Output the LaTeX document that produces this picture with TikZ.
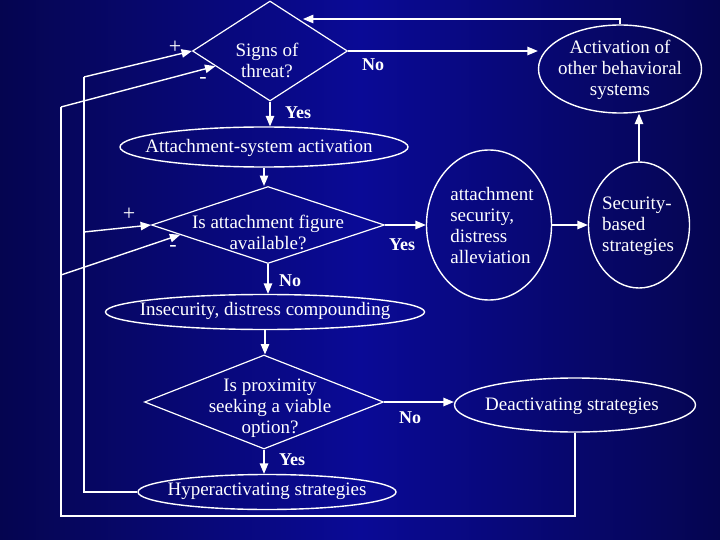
\documentclass[tikz,border=0pt]{standalone}
\usepackage{fontspec}
\setmainfont{Liberation Serif}
\usetikzlibrary{arrows,shapes,positioning,calc}
\definecolor{navydark}{RGB}{5,5,80}
\definecolor{navymid}{RGB}{10,10,150}
\tikzset{
  box/.style={draw=white,line width=1.4pt,ellipse,inner sep=0pt},
  ask/.style={draw=white,line width=1.2pt,diamond,inner sep=0pt},
  ln/.style={draw=white,line width=1.4pt},
  txt/.style={text=white,align=center,font=\fontsize{19}{21}\selectfont},
  lbl/.style={text=white,font=\bfseries\fontsize{18}{20}\selectfont},
  sgn/.style={text=white,font=\fontsize{22}{22}\selectfont}
}
\begin{document}
\begin{tikzpicture}[x=1pt,y=-1pt,>=triangle 45]
      \shade[left color=navydark,right color=navydark,middle color=navymid] (0,0) rectangle (720,540);
      \useasboundingbox (0,0) rectangle (720,540);

      \node (threat) [ask,minimum width=155,minimum height=100] at (270,51) {};
      \node (threatT) [txt] at (267,60) {Signs of\\threat?};
      \node (other) [box,minimum width=163,minimum height=88] at (620,69) {};
      \node (otherT) [txt] at (620,70) {Activation of\\other behavioral\\systems};
      \node (act) [box,minimum width=288,minimum height=40] at (264,147) {};
      \node (actT) [txt] at (259,148) {Attachment-system activation};
      \node (avail) [ask,minimum width=233,minimum height=77] at (268,225) {};
      \node (availT) [txt] at (268,232) {Is attachment figure\\available?};
      \node (sec) [box,minimum width=125,minimum height=150] at (489,225) {};
      \node (secT) [txt,align=left] at (492,226) {attachment\\security,\\distress\\alleviation};
      \node (based) [box,minimum width=101,minimum height=126] at (639,225) {};
      \node (basedT) [txt,align=left] at (638,226) {Security-\\based\\strategies};
      \node (insec) [box,minimum width=319,minimum height=35] at (265,312) {};
      \node (insecT) [txt] at (265,311) {Insecurity, distress compounding};
      \node (prox) [ask,minimum width=239,minimum height=94] at (264,402) {};
      \node (proxT) [txt] at (270,408) {Is proximity\\seeking a viable\\option?};
      \node (deact) [box,minimum width=241,minimum height=54] at (575,405) {};
      \node (deactT) [txt] at (572,406) {Deactivating strategies};
      \node (hyper) [box,minimum width=258,minimum height=35] at (267,492) {};
      \node (hyperT) [txt] at (267,491) {Hyperactivating strategies};

      % labels
      \node (no1)  [lbl] at (373,65)  {No};
      \node (yes1) [lbl] at (298,113) {Yes};
      \node (yes2) [lbl] at (402,245) {Yes};
      \node (no2)  [lbl] at (290,281) {No};
      \node (no3)  [lbl] at (410,418) {No};
      \node (yes3) [lbl] at (292,460) {Yes};
      \node (p1) [sgn] at (175,47)  {+};
      \node (m1) [sgn] at (203,80)  {-};
      \node (p2) [sgn] at (129,214) {+};
      \node (m2) [sgn] at (173,248) {-};

      % helper points
      \coordinate (hL) at (84,492);
      \coordinate (hT) at (84,77);
      \coordinate (hM) at (84,232);
      \coordinate (dL) at (61,516);
      \coordinate (dT) at (61,107);
      \coordinate (dM) at (61,275);
      \coordinate (rA) at (620,19);
      \coordinate (rB) at (303,19);

      \draw[ln,->] (threat.east)  -- (threat.east -| other.west);
      \draw[ln,->] (threat.south) -- (threat.south |- act.north);
      \draw[ln,->] (act.south)    -- (act.south |- avail.north);
      \draw[ln,->] (avail.east)   -- (avail.east -| sec.west);
      \draw[ln,->] (sec.east)     -- (sec.east -| based.west);
      \draw[ln,->] (based.north)  -- (based.north |- other.south);
      \draw[ln,->] (avail.south)  -- (avail.south |- insec.north);
      \draw[ln,->] (insec.south)  -- (insec.south |- prox.north);
      \draw[ln,->] (prox.east)    -- (prox.east -| deact.west);
      \draw[ln,->] (prox.south)   -- (prox.south |- hyper.north);
      \draw[ln,->] (other.north) -- (rA) -- (rB);

      % feedback loops
      \draw[ln] (hyper.west) -- (hL) -- (hT);
      \draw[ln,->] (hT) -- (threat.west);
      \draw[ln,->] (hM) -- (avail.west);
      \draw[ln] (deact.south) |- (dL) -- (dT);
      \draw[ln,->] (dT) -- ($(threat.west)!0.3!(threat.south)$);
      \draw[ln,->] (dM) -- ($(avail.west)!0.25!(avail.south)$);
\end{tikzpicture}
\end{document}
